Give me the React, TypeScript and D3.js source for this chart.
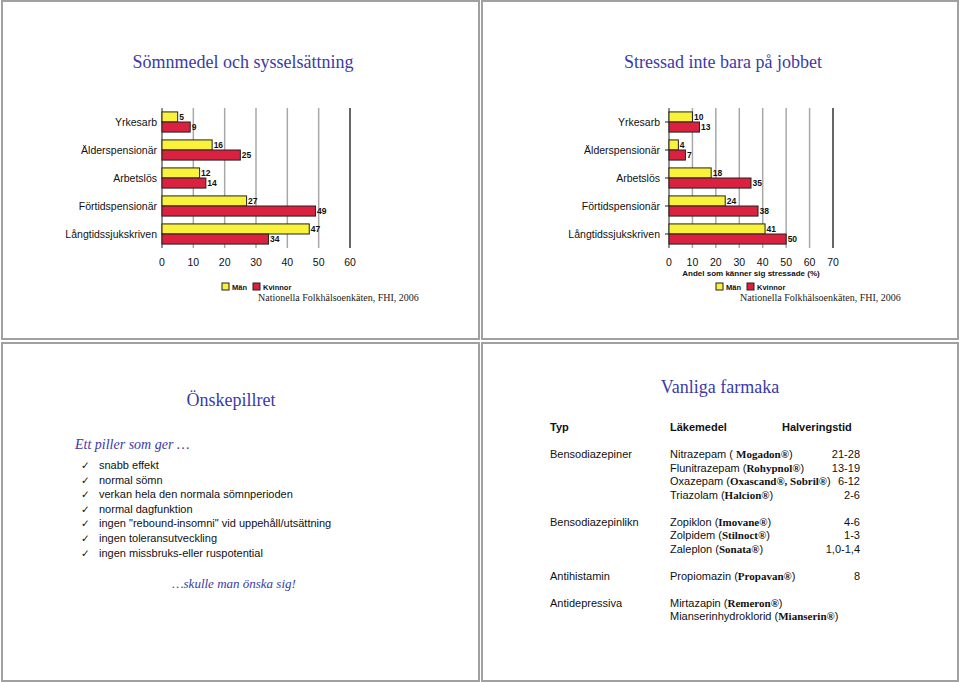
import React from "react";
import * as d3 from "d3";

const categories = ["Yrkesarb", "Älderspensionär", "Arbetslös", "Förtidspensionär", "Långtidssjukskriven"];
const menSleep = [5, 16, 12, 27, 47];
const womenSleep = [9, 25, 14, 49, 34];
const menStress = [10, 4, 18, 24, 41];
const womenStress = [13, 7, 35, 38, 50];
const ticksSleep = [0, 10, 20, 30, 40, 50, 60];
const ticksStress = [0, 10, 20, 30, 40, 50, 60, 70];

const checklist = [
  "snabb effekt",
  "normal sömn",
  "verkan hela den normala sömnperioden",
  "normal dagfunktion",
  "ingen \"rebound-insomni\" vid uppehåll/utsättning",
  "ingen toleransutveckling",
  "ingen missbruks-eller ruspotential",
];

type Drug = { name: string; brand: string; half: string };
const drugGroups: { type: string; drugs: Drug[] }[] = [
  {
    type: "Bensodiazepiner",
    drugs: [
      { name: "Nitrazepam ( ", brand: "Mogadon®", half: "21-28" },
      { name: "Flunitrazepam (", brand: "Rohypnol®", half: "13-19" },
      { name: "Oxazepam (", brand: "Oxascand®, Sobril®", half: "6-12" },
      { name: "Triazolam (", brand: "Halcion®", half: "2-6" },
    ],
  },
  {
    type: "Bensodiazepinlikn",
    drugs: [
      { name: "Zopiklon (", brand: "Imovane®", half: "4-6" },
      { name: "Zolpidem (", brand: "Stilnoct®", half: "1-3" },
      { name: "Zaleplon (", brand: "Sonata®", half: "1,0-1,4" },
    ],
  },
  { type: "Antihistamin", drugs: [{ name: "Propiomazin (", brand: "Propavan®", half: "8" }] },
  {
    type: "Antidepressiva",
    drugs: [
      { name: "Mirtazapin (", brand: "Remeron®", half: "" },
      { name: "Mianserinhydroklorid (", brand: "Mianserin®", half: "" },
    ],
  },
];

const YELLOW = "#f8f23a";
const RED = "#da2240";
const BLUE = "#3a3aa8";
const SANS = "Liberation Sans, Arial, sans-serif";
const SERIF = "Liberation Serif, Times New Roman, serif";

function BarChart(props: {
  men: number[];
  women: number[];
  ticks: number[];
  x0: number;
  x1: number;
  labelX: number;
  leftTicks: boolean;
  xTitle?: string;
}) {
  const { men, women, ticks, x0, x1, labelX, leftTicks, xTitle } = props;
  const max = ticks[ticks.length - 1];
  const x = d3.scaleLinear().domain([0, max]).range([x0, x1]);
  const y = d3.scaleBand<string>().domain(categories).range([108, 248]).paddingInner(0.28).paddingOuter(0.14);
  const bw = y.bandwidth() / 2;
  return (
    <g>
      {ticks.slice(1, -1).map((t) => (
        <line key={t} x1={x(t)} x2={x(t)} y1={108} y2={248} stroke="#a8a8a8" strokeWidth={1.5} />
      ))}
      <line x1={x(max)} x2={x(max)} y1={108} y2={248} stroke="#333" strokeWidth={1.5} />
      <line x1={x0} x2={x0} y1={108} y2={248} stroke="#222" strokeWidth={1} />
      {leftTicks &&
        categories.map((c) => (
          <line key={c} x1={x0 - 4} x2={x0} y1={(y(c) as number) + y.bandwidth() / 2} y2={(y(c) as number) + y.bandwidth() / 2} stroke="#222" />
        ))}
      {categories.map((c, i) => {
        const yy = y(c) as number;
        return (
          <g key={c}>
            <text x={labelX} y={yy + y.bandwidth() / 2 + 4} textAnchor="end" fontFamily={SANS} fontSize={10.5} fill="#111">
              {c}
            </text>
            <rect x={x0} y={yy} width={x(men[i]) - x0} height={bw} fill={YELLOW} stroke="#222" strokeWidth={1} />
            <rect x={x0} y={yy + bw} width={x(women[i]) - x0} height={bw} fill={RED} stroke="#222" strokeWidth={1} />
            <text x={x(men[i]) + 1.5} y={yy + bw - 2} fontFamily={SANS} fontSize={8.5} fontWeight="bold" fill="#111">
              {men[i]}
            </text>
            <text x={x(women[i]) + 1.5} y={yy + 2 * bw - 2} fontFamily={SANS} fontSize={8.5} fontWeight="bold" fill="#111">
              {women[i]}
            </text>
          </g>
        );
      })}
      {ticks.map((t) => (
        <text key={t} x={x(t)} y={266} textAnchor="middle" fontFamily={SANS} fontSize={10.5} fill="#111">
          {t}
        </text>
      ))}
      {xTitle && (
        <text x={(x0 + x1) / 2} y={276} textAnchor="middle" fontFamily={SANS} fontSize={8} fontWeight="bold" fill="#111">
          {xTitle}
        </text>
      )}
    </g>
  );
}

function Legend(props: { x: number; sourceX: number }) {
  const { x, sourceX } = props;
  return (
    <g>
      <rect x={x} y={283} width={7} height={7} fill={YELLOW} stroke="#222" />
      <text x={x + 10} y={290} fontFamily={SANS} fontSize={7.5} fontWeight="bold" fill="#111">Män</text>
      <rect x={x + 31} y={283} width={7} height={7} fill={RED} stroke="#222" />
      <text x={x + 41} y={290} fontFamily={SANS} fontSize={7.5} fontWeight="bold" fill="#111">Kvinnor</text>
      <text x={sourceX} y={301} fontFamily={SERIF} fontSize={10} fill="#222">Nationella Folkhälsoenkäten, FHI, 2006</text>
    </g>
  );
}

export default function App() {
  const slides = [
    [2, 1, 477, 338],
    [482, 1, 476, 338],
    [2, 343, 477, 338],
    [482, 343, 476, 338],
  ];
  const rowH = 13.5;
  let rowY = 454;
  const drugRows: React.ReactNode[] = [];
  drugGroups.forEach((g, gi) => {
    g.drugs.forEach((d, di) => {
      drugRows.push(
        <g key={`${gi}-${di}`}>
          {di === 0 && (
            <text x={550} y={rowY + 4} fontFamily={SANS} fontSize={11} fill="#111">{g.type}</text>
          )}
          <text x={670} y={rowY + 4} fontFamily={SANS} fontSize={11} fill="#111">
            {d.name}
            <tspan fontFamily={SERIF} fontWeight="bold">{d.brand}</tspan>
            <tspan>)</tspan>
          </text>
          {d.half && (
            <text x={860} y={rowY + 4} textAnchor="end" fontFamily={SANS} fontSize={11} fill="#111">{d.half}</text>
          )}
        </g>
      );
      rowY += rowH;
    });
    rowY += rowH;
  });

  return (
    <svg width={960} height={682} style={{ position: "absolute", left: 0, top: 0, background: "#fff" }}>
      <rect width={960} height={682} fill="#fff" />
      {slides.map((s, i) => (
        <rect key={i} x={s[0]} y={s[1]} width={s[2]} height={s[3]} fill="#fff" stroke="#a0a0a0" strokeWidth={2} />
      ))}

      <text x={243} y={68} textAnchor="middle" fontFamily={SERIF} fontSize={18} fill={BLUE}>Sömnmedel och sysselsättning</text>
      <BarChart men={menSleep} women={womenSleep} ticks={ticksSleep} x0={162} x1={350} labelX={157} leftTicks={false} />
      <Legend x={222} sourceX={258} />

      <text x={723} y={68} textAnchor="middle" fontFamily={SERIF} fontSize={18} fill={BLUE}>Stressad inte bara på jobbet</text>
      <BarChart men={menStress} women={womenStress} ticks={ticksStress} x0={669} x1={833} labelX={660} leftTicks={true} xTitle="Andel som känner sig stressade (%)" />
      <Legend x={716} sourceX={740} />

      <text x={231} y={406} textAnchor="middle" fontFamily={SERIF} fontSize={18} fill={BLUE}>Önskepillret</text>
      <text x={75} y={449} fontFamily={SERIF} fontSize={14} fontStyle="italic" fill={BLUE}>Ett piller som ger …</text>
      {checklist.map((c, i) => (
        <g key={c}>
          <text x={81} y={469 + i * 14.6} fontFamily={"DejaVu Sans, sans-serif"} fontSize={10.5} fill="#111">✓</text>
          <text x={99} y={469 + i * 14.6} fontFamily={SANS} fontSize={11} fill="#111">{c}</text>
        </g>
      ))}
      <text x={172} y={588} fontFamily={SERIF} fontSize={13} fontStyle="italic" fill={BLUE}>…skulle man önska sig!</text>

      <text x={720} y={393} textAnchor="middle" fontFamily={SERIF} fontSize={18} fill={BLUE}>Vanliga farmaka</text>
      <text x={550} y={431} fontFamily={SANS} fontSize={11} fontWeight="bold" fill="#111">Typ</text>
      <text x={670} y={431} fontFamily={SANS} fontSize={11} fontWeight="bold" fill="#111">Läkemedel</text>
      <text x={782} y={431} fontFamily={SANS} fontSize={11} fontWeight="bold" fill="#111">Halveringstid</text>
      {drugRows}
    </svg>
  );
}
